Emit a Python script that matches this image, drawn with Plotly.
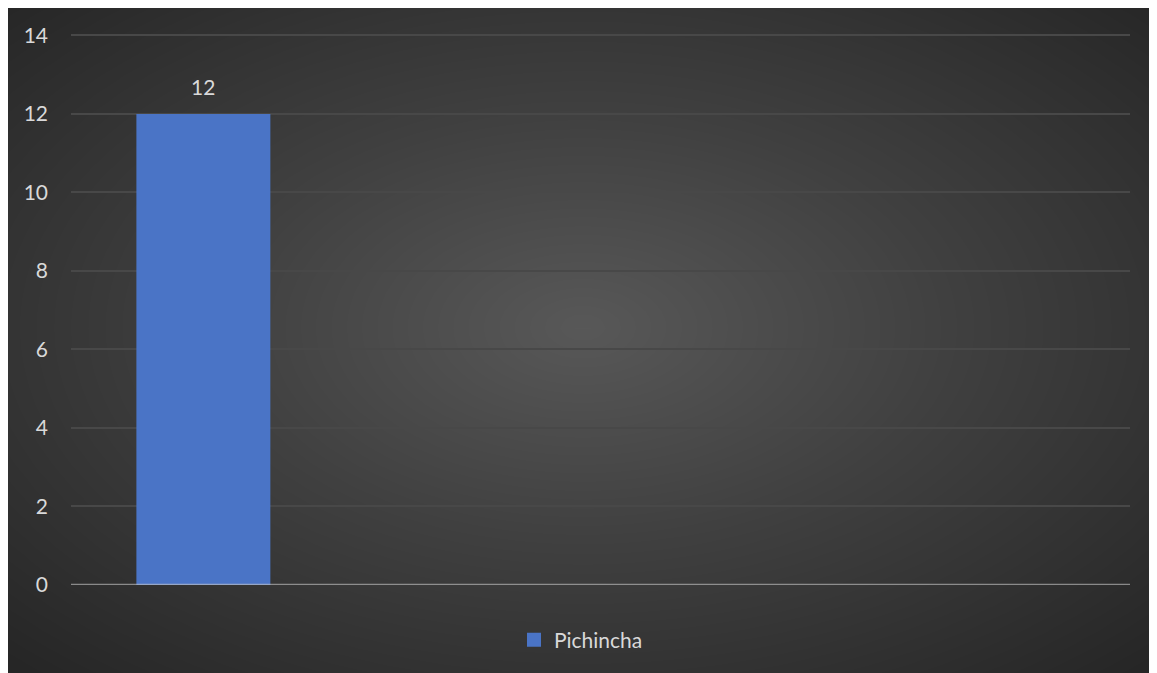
import numpy as np
import plotly.graph_objects as go

# ---- data ----
categories = ["c1", "c2", "c3", "c4"]
series_name = "Pichincha"
values = [12, None, None, None]
y_ticks = [0, 2, 4, 6, 8, 10, 12, 14]

# page has an 8px body margin, so figure is sized to fit viewport
FW, FH = 1149, 665
OFF = 8

# background radial gradient (decoration only)
n = 80
gx = np.linspace(0, 1, n)
gy = np.linspace(0, 1, n)
X, Y = np.meshgrid(gx, gy)
R = np.sqrt(((X - 0.5) / 0.5) ** 2 + ((Y - 0.52) / 0.5) ** 2) / np.sqrt(2)

fig = go.Figure()
fig.add_trace(go.Heatmap(
    x=gx, y=gy, z=R, zsmooth="best", showscale=False, hoverinfo="skip",
    colorscale=[[0, "#585858"], [0.45, "#404040"], [1, "#262626"]],
    zmin=0, zmax=1, xaxis="x", yaxis="y", showlegend=False,
))

fig.add_trace(go.Bar(
    x=categories, y=values, name=series_name, width=0.506,
    marker=dict(color="#4a74c6", line=dict(width=0)),
    xaxis="x2", yaxis="y2", showlegend=False,
))
# legend entry with a larger square swatch
fig.add_trace(go.Scatter(
    x=[None], y=[None], mode="markers", name=series_name,
    marker=dict(symbol="square", size=14, color="#4a74c6"),
    xaxis="x2", yaxis="y2", showlegend=True,
))

def px_x(p):
    return (p - OFF) / FW

def px_y(p):
    return (FH - (p - OFF)) / FH

y_top_val = 14.1
unit = (585 - 35.5) / 14.0
x0, x1 = px_x(71), px_x(1130)
y0 = px_y(585)
y1 = px_y(35.5 - (y_top_val - 14) * unit)

fig.add_annotation(
    x=0, y=values[0], xref="x2", yref="y2", text=str(values[0]),
    showarrow=False, yanchor="bottom", yshift=13,
    font=dict(family="Lato", size=21, color="#d9d9d9"),
)

fig.add_shape(
    type="line", xref="x2 domain", yref="y2", x0=0, x1=1, y0=0, y1=0,
    line=dict(color="rgba(200,200,200,0.6)", width=2.5), layer="above",
)

fig.update_layout(
    width=FW, height=FH,
    margin=dict(l=0, t=0, r=0, b=0, pad=0, autoexpand=False),
    paper_bgcolor="white", plot_bgcolor="rgba(0,0,0,0)",
    xaxis=dict(domain=[0, 1], range=[0, 1], visible=False, fixedrange=True,
               automargin=False),
    yaxis=dict(domain=[0, 1], range=[0, 1], visible=False, fixedrange=True,
               automargin=False),
    xaxis2=dict(domain=[x0, x1], anchor="y2", range=[-0.5, 3.5],
                showticklabels=False, showgrid=False, zeroline=False,
                showline=False, ticks="", automargin=False),
    yaxis2=dict(domain=[y0, y1], anchor="x2", range=[0, y_top_val],
                tickvals=y_ticks, ticks="", ticklabelstandoff=22,
                showgrid=True, gridcolor="#484848", gridwidth=2,
                zeroline=False, showline=False, automargin=False,
                tickfont=dict(family="Lato", size=21, color="#d9d9d9")),
    showlegend=True,
    legend=dict(orientation="h", x=px_x(581), xanchor="center", y=px_y(640),
                yanchor="middle", bgcolor="rgba(0,0,0,0)",
                itemwidth=30,
                font=dict(family="Lato", size=21, color="#d9d9d9")),
)

fig.write_html("out.html")
